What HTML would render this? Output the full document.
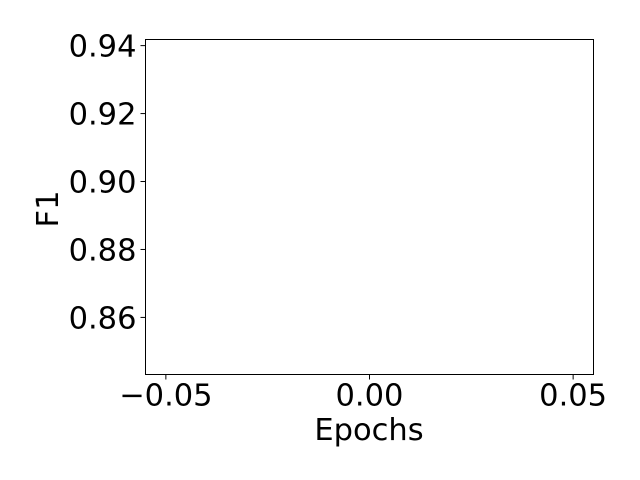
<!DOCTYPE html>
<html>
<head>
<meta charset="utf-8">
<style>
  html, body { margin: 0; padding: 0; background: #fff; }
  svg { display: block; }
  text { font-family: "DejaVu Sans", "Liberation Sans", sans-serif; fill: #000; }
</style>
</head>
<body>
<svg id="chart" width="640" height="480" viewBox="0 0 640 480" xmlns="http://www.w3.org/2000/svg">
  <rect x="0" y="0" width="640" height="480" fill="#fff"></rect>
  <g id="ticks"></g>
  <rect x="145.5" y="39.5" width="448" height="335" fill="none" stroke="#000" stroke-width="1"></rect>
  <text x="369" y="440" font-size="30.5" text-anchor="middle">Epochs</text>
  <text x="0" y="0" font-size="30.5" text-anchor="middle" transform="translate(58,209) rotate(-90)">F1</text>
</svg>
<script>
const xTicks = [-0.05, 0.00, 0.05];
const xTickLabels = ["\u22120.05", "0.00", "0.05"];
const yTicks = [0.86, 0.88, 0.90, 0.92, 0.94];
const yTickLabels = ["0.86", "0.88", "0.90", "0.92", "0.94"];
const epochs = [];
const f1Values = [];

const X0 = 145.5, X1 = 593.5, Y0 = 374.5, Y1 = 39.5;
const xMin = -0.055, xMax = 0.055, yMin = 0.8432, yMax = 0.9418;
function xs(v) { return X0 + (v - xMin) / (xMax - xMin) * (X1 - X0); }
function ys(v) { return Y0 - (v - yMin) / (yMax - yMin) * (Y0 - Y1); }

const NS = "http://www.w3.org/2000/svg";
const g = document.getElementById('ticks');
xTicks.forEach((t, i) => {
  const x = xs(t);
  const l = document.createElementNS(NS, 'line');
  l.setAttribute('x1', x); l.setAttribute('x2', x);
  l.setAttribute('y1', Y0); l.setAttribute('y2', Y0 + 5);
  l.setAttribute('stroke', '#000');
  
  
  g.appendChild(l);
  const tx = document.createElementNS(NS, 'text');
  tx.setAttribute('x', x); tx.setAttribute('y', Y0 + 31);
  tx.setAttribute('font-size', '30.5');
  tx.setAttribute('text-anchor', 'middle');
  tx.textContent = xTickLabels[i];
  
  
  g.appendChild(tx);
});
yTicks.forEach((t, i) => {
  const y = ys(t);
  const l = document.createElementNS(NS, 'line');
  l.setAttribute('x1', X0 - 5); l.setAttribute('x2', X0);
  l.setAttribute('y1', y); l.setAttribute('y2', y);
  l.setAttribute('stroke', '#000');
  
  
  g.appendChild(l);
  const tx = document.createElementNS(NS, 'text');
  tx.setAttribute('x', X0 - 9); tx.setAttribute('y', y + 11);
  tx.setAttribute('font-size', '30.5');
  tx.setAttribute('text-anchor', 'end');
  tx.textContent = yTickLabels[i];
  
  
  g.appendChild(tx);
});
if (epochs.length) {
  const p = document.createElementNS(NS, 'polyline');
  p.setAttribute('points', epochs.map((e, i) => xs(e) + ',' + ys(f1Values[i])).join(' '));
  p.setAttribute('fill', 'none');
  p.setAttribute('stroke', '#1f77b4');
  
  
  document.getElementById('chart').appendChild(p);
}
</script>
</body>
</html>
